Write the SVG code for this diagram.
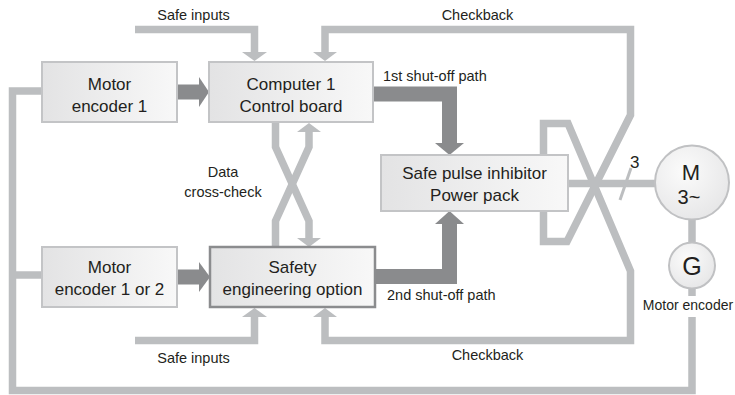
<svg xmlns="http://www.w3.org/2000/svg" width="735" height="395" viewBox="0 0 735 395">
<defs>
<linearGradient id="boxg" x1="0" y1="0" x2="1" y2="0">
<stop offset="0" stop-color="#e3e3e4"/>
<stop offset="1" stop-color="#f8f8f8"/>
</linearGradient>
<radialGradient id="circg" cx="0.4" cy="0.35" r="0.7">
<stop offset="0" stop-color="#fbfbfb"/>
<stop offset="1" stop-color="#e6e6e7"/>
</radialGradient>
<style>
.box{fill:url(#boxg);stroke:#c3c4c6;stroke-width:2}
.box2{fill:url(#boxg);stroke:#8b8c8e;stroke-width:2.5}
.circ{fill:url(#circg);stroke:#c0c1c3;stroke-width:2}
.t{font-family:"Liberation Sans",Arial,sans-serif;fill:#231f20;text-anchor:middle}
.bt{font-size:17px}
.lt{font-size:14.5px}
.ls{font-family:"Liberation Sans",Arial,sans-serif;fill:#231f20;font-size:14.5px}
.ln{fill:none;stroke:#bcbec0;stroke-width:7.5;stroke-linejoin:miter}
.lh{fill:#bcbec0}
.dk{fill:none;stroke:#8a8b8d;stroke-width:15;stroke-linejoin:miter}
.dh{fill:#8a8b8d}
</style>
</defs>
<rect width="735" height="395" fill="#ffffff"/>

<g id="connectors">
<!-- safe inputs top -->
<path class="ln" d="M135,29.5 H254.5 V53"/>
<polygon class="lh" points="242,52 267,52 254.5,61"/>
<!-- checkback top -->
<path class="ln" d="M325,53 V29.5 H630.5 V115 L567,241.5 H543.5 V211"/>
<polygon class="lh" points="313,52 337,52 325,61"/>
<!-- checkback bottom -->
<path class="ln" d="M543.5,155 V123.5 H568 L630.5,271 V340.5 H325 V316"/>
<polygon class="lh" points="313,317 337,317 325,308"/>
<!-- safe inputs bottom -->
<path class="ln" d="M135,340.5 H254.5 V316"/>
<polygon class="lh" points="242,317 267,317 254.5,308"/>
<!-- data cross-check -->
<path class="ln" d="M275.5,122 V147 L309,221 V239"/>
<polygon class="lh" points="297,238 321,238 309,247"/>
<path class="ln" d="M309,131 V147 L275.5,221 V247"/>
<polygon class="lh" points="297,132 321,132 309,123"/>
<!-- power line -->
<path class="ln" d="M568,183.5 H656"/>
<line x1="620" y1="200" x2="631" y2="168" stroke="#bcbec0" stroke-width="3"/>
<!-- M to G -->
<path class="ln" d="M692,219 V243"/>
<!-- encoder feedback -->
<path class="ln" d="M692,288 V296"/>
<path class="ln" d="M692,317 V390.5 H12.5 V91 H42"/>
<path class="ln" d="M12.5,275 H42"/>
<!-- dark arrows -->
<rect x="177" y="84.5" width="23" height="15" fill="#8a8b8d"/>
<polygon class="dh" points="199,77 199,107 209,92"/>
<rect x="177" y="269.5" width="23" height="15" fill="#8a8b8d"/>
<polygon class="dh" points="199,262 199,292 210,277"/>
<path class="dk" d="M373,94 H449.5 V144"/>
<polygon class="dh" points="435,143 464,143 449.5,155"/>
<path class="dk" d="M375,276.5 H449.5 V223"/>
<polygon class="dh" points="435,224 464,224 449.5,211"/>
</g>

<g id="labels">
<text class="t lt" x="193.5" y="20">Safe inputs</text>
<text class="t lt" x="477.5" y="20">Checkback</text>
<text class="ls" x="383" y="81">1st shut-off path</text>
<text class="t lt" x="223" y="177">Data</text>
<text class="t lt" x="223" y="197">cross-check</text>
<text class="ls" x="387" y="300">2nd shut-off path</text>
<text class="t lt" x="193.5" y="363">Safe inputs</text>
<text class="t lt" x="487.5" y="360">Checkback</text>
<text class="ls" style="font-size:17px" x="630" y="168">3</text>
<text class="t" style="font-size:14px" x="688" y="310">Motor encoder</text>
</g>

<g id="motor-encoder-1">
<rect class="box" x="42" y="62" width="135" height="60"/>
<text class="t bt" x="109.5" y="90">Motor</text>
<text class="t bt" x="109.5" y="112">encoder 1</text>
</g>

<g id="computer-1">
<rect class="box" x="209" y="62" width="164" height="60"/>
<text class="t bt" x="291" y="90">Computer 1</text>
<text class="t bt" x="291" y="112">Control board</text>
</g>

<g id="motor-encoder-1-or-2">
<rect class="box" x="42" y="247" width="135" height="60"/>
<text class="t bt" x="109.5" y="273">Motor</text>
<text class="t bt" x="109.5" y="295">encoder 1 or 2</text>
</g>

<g id="safety-engineering-option">
<rect class="box2" x="210" y="247" width="165" height="60"/>
<text class="t bt" x="292.5" y="273">Safety</text>
<text class="t bt" x="292.5" y="295">engineering option</text>
</g>

<g id="power-pack">
<rect class="box" x="381" y="155" width="187" height="56"/>
<text class="t bt" x="474.5" y="179">Safe pulse inhibitor</text>
<text class="t bt" x="474.5" y="201">Power pack</text>
</g>

<g id="motor">
<circle class="circ" cx="692" cy="182.5" r="37"/>
<text class="t" style="font-size:22px" x="691" y="180">M</text>
<text class="t" style="font-size:20px" x="689" y="204">3~</text>
</g>

<g id="encoder-g">
<circle class="circ" cx="692" cy="265.5" r="23"/>
<text class="t" style="font-size:25px" x="692" y="275">G</text>
</g>
</svg>
